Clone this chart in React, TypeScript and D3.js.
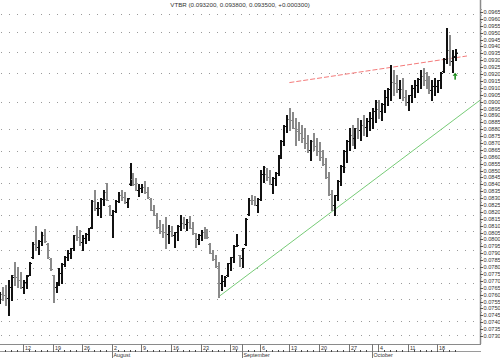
import React from "react";
import * as d3 from "d3";

// Prices in units of 0.00001 RUB, two bars per trading day (from 2010-07-06)
const highs = [
  7619, 7655, 7670, 7706, 7742, 7837, 7800, 7764, 7706, 7742,
  7837, 7982, 8098, 7996, 8054, 8076, 7975, 7866, 7742, 7692,
  7793, 7829, 7880, 7924, 7938, 8033, 8098, 8069, 8033, 8047,
  8083, 8286, 8359, 8272, 8301, 8359, 8410, 8250, 8214, 8286,
  8344, 8359, 8344, 8301, 8555, 8482, 8446, 8402, 8402, 8424,
  8381, 8301, 8250, 8192, 8141, 8112, 8163, 8105, 8098, 8054,
  8105, 8178, 8163, 8149, 8170, 8127, 8047, 8040, 8069, 8091,
  8076, 7975, 7924, 7888, 7837, 7742, 7735, 7829, 7873, 7960,
  8040, 7888, 7938, 8156, 8301, 8323, 8316, 8301, 8504, 8533,
  8519, 8504, 8453, 8490, 8613, 8722, 8830, 8903, 8954, 8925,
  8881, 8852, 8830, 8809, 8758, 8722, 8772, 8736, 8707, 8649,
  8591, 8490, 8359, 8323, 8431, 8540, 8649, 8722, 8809, 8830,
  8809, 8881, 8867, 8903, 8881, 8925, 8954, 9012, 9012, 8990,
  9084, 9099, 9266, 9229, 9193, 9157, 9171, 9084, 9048, 9121,
  9157, 9171, 9229, 9244, 9215, 9186, 9157, 9171, 9157, 9215,
  9316, 9534, 9483, 9374, 9380,
];
const lows = [
  7539, 7561, 7525, 7452, 7561, 7670, 7655, 7648, 7612, 7648,
  7742, 7866, 7924, 7895, 7960, 7982, 7866, 7779, 7547, 7619,
  7670, 7684, 7808, 7851, 7866, 7924, 7996, 7960, 7924, 7975,
  7996, 8083, 8214, 8178, 8163, 8250, 8286, 8178, 8018, 8199,
  8272, 8286, 8265, 8236, 8395, 8395, 8359, 8316, 8344, 8337,
  8301, 8214, 8178, 8083, 8047, 8018, 7938, 7975, 8025, 7946,
  7996, 8069, 8083, 8069, 8083, 8040, 7946, 7967, 7996, 8011,
  8011, 7902, 7851, 7800, 7583, 7634, 7663, 7735, 7779, 7837,
  7953, 7808, 7800, 7960, 8178, 8257, 8250, 8199, 8286, 8417,
  8431, 8402, 8337, 8395, 8468, 8591, 8685, 8780, 8794, 8809,
  8685, 8722, 8707, 8664, 8635, 8577, 8649, 8613, 8577, 8540,
  8446, 8323, 8214, 8178, 8286, 8395, 8490, 8562, 8649, 8685,
  8664, 8736, 8722, 8758, 8751, 8794, 8809, 8852, 8881, 8867,
  8925, 8975, 9012, 9048, 9070, 9026, 9012, 8975, 8939, 8997,
  9034, 9070, 9099, 9121, 9099, 9062, 9012, 9048, 9070, 9099,
  9215, 9280, 9266, 9215, 9300,
];
const opens = [
  7600, 7608, 7598, 7579, 7652, 7742, 7728, 7706, 7659, 7695,
  7745, 7870, 7970, 7946, 7990, 8029, 7970, 7860, 7740, 7656,
  7690, 7757, 7825, 7875, 7902, 7935, 8030, 8015, 7979, 8011,
  8040, 8090, 8280, 8225, 8232, 8295, 8348, 8245, 8180, 8210,
  8280, 8323, 8305, 8269, 8400, 8439, 8403, 8359, 8373, 8381,
  8341, 8295, 8214, 8180, 8094, 8065, 8051, 8040, 8062, 8030,
  8051, 8100, 8123, 8109, 8127, 8084, 8045, 8004, 8033, 8051,
  8044, 7970, 7905, 7855, 7805, 7688, 7699, 7740, 7826, 7870,
  7955, 7885, 7869, 7965, 8185, 8290, 8283, 8250, 8295, 8475,
  8475, 8453, 8405, 8443, 8485, 8610, 8715, 8825, 8874, 8867,
  8812, 8787, 8769, 8737, 8697, 8650, 8711, 8675, 8642, 8595,
  8545, 8450, 8330, 8251, 8320, 8425, 8535, 8642, 8715, 8758,
  8737, 8809, 8795, 8831, 8816, 8860, 8882, 8932, 8947, 8929,
  8985, 9037, 9095, 9139, 9132, 9092, 9092, 9030, 8994, 9045,
  9096, 9121, 9164, 9183, 9157, 9124, 9085, 9110, 9114, 9157,
  9220, 9310, 9375, 9295, 9320,
];
const closes = [
  7608, 7598, 7579, 7652, 7730, 7728, 7706, 7659, 7695, 7735,
  7830, 7970, 7946, 7990, 8029, 7990, 7870, 7785, 7656, 7690,
  7757, 7825, 7875, 7902, 7935, 8030, 8015, 7979, 8011, 8040,
  8080, 8280, 8225, 8232, 8295, 8348, 8290, 8180, 8210, 8280,
  8323, 8305, 8269, 8300, 8439, 8403, 8359, 8373, 8381, 8341,
  8305, 8214, 8180, 8094, 8065, 8051, 8040, 8062, 8030, 8051,
  8100, 8123, 8109, 8127, 8084, 8045, 8004, 8033, 8051, 8044,
  8015, 7905, 7855, 7805, 7688, 7699, 7730, 7826, 7870, 7955,
  7960, 7869, 7935, 8150, 8290, 8283, 8250, 8295, 8475, 8475,
  8453, 8405, 8443, 8485, 8610, 8715, 8825, 8874, 8867, 8812,
  8787, 8769, 8737, 8697, 8650, 8711, 8675, 8642, 8595, 8545,
  8450, 8330, 8251, 8320, 8425, 8535, 8642, 8715, 8758, 8737,
  8809, 8795, 8831, 8816, 8860, 8882, 8932, 8947, 8929, 8985,
  9037, 9095, 9139, 9132, 9092, 9092, 9030, 8994, 9045, 9096,
  9121, 9164, 9183, 9157, 9124, 9085, 9110, 9114, 9157, 9210,
  9310, 9375, 9295, 9330, 9350,
];
const PRICE_UNIT = 100000;

const TITLE = "VTBR (0.093200, 0.093800, 0.093500, +0.000300)";
const MONTH_NAMES = ["January", "February", "March", "April", "May", "June", "July", "August", "September", "October", "November", "December"];

// Trend lines (bar index, price)
const supportLine = [
  { bar: 74, price: 0.07583 },
  { bar: 162.4, price: 0.0901 },
];
const resistanceLine = [
  { bar: 98, price: 0.09138 },
  { bar: 158, price: 0.09331 },
];
const buySignal = { bar: 154, price: 0.0921 };

// Dotted grid levels (price)
const gridLevels = [
  0.09635, 0.09505, 0.0936, 0.09208, 0.08997, 0.08801, 0.08642, 0.08526, 0.0841,
  0.08294, 0.08178, 0.08062, 0.07924, 0.07793, 0.07684, 0.07568, 0.07409, 0.07307,
];
const priceTicks = d3.range(730, 966, 5).map((v) => v / 10000);

const FONT = "'Liberation Sans', Arial, sans-serif";

export default function App() {
  const days = d3
    .utcDay.range(new Date(Date.UTC(2010, 6, 6)), new Date(Date.UTC(2010, 9, 22)))
    .filter((d) => d.getUTCDay() % 6 !== 0);

  const plotRight = 480;
  const axisTop = 344;
  const x = d3.scaleLinear().domain([0, 162.4]).range([-0.7, plotRight]);
  const y = d3.scaleLinear().domain([0.073, 0.0965]).range([336, 12]);
  const px = (i: number) => Math.round(x(i));
  const py = (p: number) => Math.round(y(p));

  const bars = highs.map((h, i) => ({
    i,
    h: h / PRICE_UNIT,
    l: lows[i] / PRICE_UNIT,
    o: opens[i] / PRICE_UNIT,
    c: closes[i] / PRICE_UNIT,
  }));

  const weekTicks = days
    .map((d, k) => ({ d, k }))
    .filter(({ d }) => d.getUTCDay() === 1);
  const monthTicks = days
    .map((d, k) => ({ d, k }))
    .filter(({ d, k }) => k > 0 && d.getUTCMonth() !== days[k - 1].getUTCMonth());

  const line = d3
    .line<{ bar: number; price: number }>()
    .x((d) => x(d.bar))
    .y((d) => y(d.price));

  const ax = x(buySignal.bar);
  const ay = y(buySignal.price);

  return (
    <div style={{ position: "fixed", left: 0, top: 0 }}>
      <svg width={500} height={358} style={{ display: "block", background: "#fff" }}>
        <rect x={0} y={0} width={500} height={358} fill="#fff" />
        {/* grid */}
        {gridLevels.map((g, k) => (
          <line
            key={"g" + k}
            x1={1}
            x2={plotRight}
            y1={py(g) + 0.5}
            y2={py(g) + 0.5}
            stroke="#9a9a9a"
            strokeWidth={1}
            strokeDasharray="1 7"
          />
        ))}
        {/* title */}
        <text x={240} y={7} textAnchor="middle" fontFamily={FONT} fontSize={6.2} fill="#333">
          {TITLE}
        </text>
        {/* trend lines */}
        <path d={line(supportLine) || ""} fill="none" stroke="#77cc77" strokeWidth={1} />
        <path
          d={line(resistanceLine) || ""}
          fill="none"
          stroke="#f47b7b"
          strokeWidth={1}
          strokeDasharray="5 2"
        />
        {/* OHLC bars */}
        {bars.map((b) => {
          const cx = px(b.i);
          const up = b.c >= b.o;
          const col = up ? "#111" : "#8a8a8a";
          const yh = py(b.h);
          const yl = py(b.l);
          return (
            <g key={"b" + b.i} fill={col}>
              <rect x={cx} y={yh} width={2} height={Math.max(1, yl - yh + 1)} />
              <rect x={cx - 1} y={py(b.o)} width={1} height={1} />
              <rect x={cx + 2} y={py(b.c)} width={1} height={1} />
            </g>
          );
        })}
        {/* buy signal arrow */}
        <g fill="#118811">
          <path d={`M${ax},${ay} L${ax - 2.5},${ay + 3} L${ax + 2.5},${ay + 3} Z`} />
          <rect x={ax - 0.75} y={ay + 3} width={1.5} height={4} />
        </g>
        {/* right axis */}
        <line x1={plotRight + 0.5} x2={plotRight + 0.5} y1={0} y2={axisTop} stroke="#8a8a8a" strokeWidth={1.5} />
        {priceTicks.map((t) => (
          <g key={"t" + t}>
            <line x1={plotRight} x2={plotRight + 3} y1={py(t) + 0.5} y2={py(t) + 0.5} stroke="#555" />
            <line
              x1={plotRight}
              x2={plotRight + 2}
              y1={Math.round(y(t + 0.00025)) + 0.5}
              y2={Math.round(y(t + 0.00025)) + 0.5}
              stroke="#999"
            />
            <text
              x={plotRight + 3.5}
              y={py(t) + 2.3}
              fontFamily={FONT}
              fontSize={5.6}
              fill="#333"
            >
              {t.toFixed(4)}
            </text>
          </g>
        ))}
        {/* bottom axis */}
        <line x1={0} x2={plotRight + 1} y1={axisTop + 0.5} y2={axisTop + 0.5} stroke="#8a8a8a" />
        <line x1={0} x2={plotRight + 1} y1={351.5} y2={351.5} stroke="#9a9a9a" />
        {days.map((d, k) => (
          <rect key={"dt" + k} x={px(2 * k)} y={350} width={1} height={2} fill="#444" />
        ))}
        {weekTicks.map(({ d, k }) => (
          <g key={"w" + k}>
            <line
              x1={px(2 * k) + 0.5}
              x2={px(2 * k) + 0.5}
              y1={axisTop}
              y2={351}
              stroke="#777"
            />
            <text x={px(2 * k) + 2} y={350} fontFamily={FONT} fontSize={5.4} fill="#333">
              {d.getUTCDate()}
            </text>
          </g>
        ))}
        {monthTicks.map(({ d, k }) => (
          <g key={"m" + k}>
            <line
              x1={px(2 * k) + 0.5}
              x2={px(2 * k) + 0.5}
              y1={axisTop}
              y2={358}
              stroke="#777"
            />
            <text x={px(2 * k) + 1.5} y={357} fontFamily={FONT} fontSize={5.4} fill="#333">
              {MONTH_NAMES[d.getUTCMonth()]}
            </text>
          </g>
        ))}
      </svg>
    </div>
  );
}
